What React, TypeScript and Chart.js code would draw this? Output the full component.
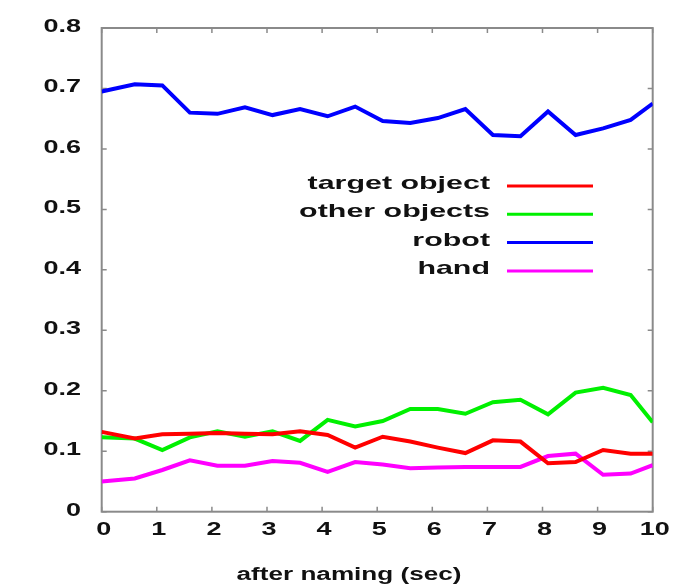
import React, { useEffect, useRef } from "react";
import { Chart, registerables } from "chart.js";

Chart.register(...registerables);

const TIMES = [0, 0.6, 1.1, 1.6, 2.1, 2.6, 3.1, 3.6, 4.1, 4.6, 5.1, 5.6, 6.1, 6.6, 7.1, 7.6, 8.1, 8.6, 9.1, 9.6, 10];
const TARGET = [0.132, 0.121, 0.128, 0.129, 0.130, 0.129, 0.128, 0.133, 0.127, 0.106, 0.124, 0.116, 0.106, 0.097, 0.118, 0.116, 0.080, 0.082, 0.102, 0.096, 0.096];
const OTHER = [0.123, 0.121, 0.102, 0.123, 0.133, 0.124, 0.133, 0.117, 0.152, 0.141, 0.150, 0.170, 0.170, 0.162, 0.181, 0.185, 0.161, 0.197, 0.205, 0.193, 0.148];
const ROBOT = [0.695, 0.707, 0.705, 0.660, 0.658, 0.669, 0.656, 0.666, 0.654, 0.670, 0.646, 0.643, 0.651, 0.666, 0.623, 0.621, 0.662, 0.623, 0.634, 0.648, 0.675];
const HAND = [0.050, 0.055, 0.069, 0.085, 0.076, 0.076, 0.084, 0.081, 0.066, 0.082, 0.078, 0.072, 0.073, 0.074, 0.074, 0.074, 0.092, 0.096, 0.061, 0.063, 0.077];

const SERIES_LABELS = ["target object", "other objects", "robot", "hand"];
const SERIES_COLORS = ["#ff0000", "#00f000", "#0000ff", "#ff00ff"];
const X_TICKS = [0, 1, 2, 3, 4, 5, 6, 7, 8, 9, 10];
const Y_TICKS = [0, 0.1, 0.2, 0.3, 0.4, 0.5, 0.6, 0.7, 0.8];
const X_TITLE = "after naming (sec)";

const FONT = "bold 18px 'Liberation Sans', Arial, sans-serif";
const LEGEND_FONT = "bold 19px 'Liberation Sans', Arial, sans-serif";
const STRETCH = 1.5;

function stretchText(ctx: CanvasRenderingContext2D, text: string, x: number, y: number, align: CanvasTextAlign, sx: number) {
  ctx.save();
  ctx.translate(x, y);
  ctx.scale(sx, 1);
  ctx.textAlign = align;
  ctx.fillText(text, 0, 0);
  ctx.restore();
}

const framePlugin = {
  id: "gnuplotFrame",
  beforeDatasetsDraw(chart: any) {
    const { ctx, chartArea: a, scales } = chart;
    ctx.save();
    ctx.strokeStyle = "#8a8a8a";
    ctx.lineWidth = 2;
    ctx.strokeRect(a.left, a.top, a.right - a.left, a.bottom - a.top);
    ctx.lineWidth = 1.5;
    ctx.beginPath();
    X_TICKS.forEach((v) => {
      const px = scales.x.getPixelForValue(v);
      ctx.moveTo(px, a.bottom);
      ctx.lineTo(px, a.bottom - 5);
      ctx.moveTo(px, a.top);
      ctx.lineTo(px, a.top + 5);
    });
    Y_TICKS.forEach((v) => {
      const py = scales.y.getPixelForValue(v);
      ctx.moveTo(a.left, py);
      ctx.lineTo(a.left + 5, py);
      ctx.moveTo(a.right, py);
      ctx.lineTo(a.right - 5, py);
    });
    ctx.stroke();
    ctx.restore();
  },
  afterDraw(chart: any) {
    const { ctx, chartArea: a, scales } = chart;
    ctx.save();
    ctx.fillStyle = "#111111";
    ctx.font = FONT;
    ctx.textBaseline = "middle";
    Y_TICKS.forEach((v) => {
      const py = scales.y.getPixelForValue(v);
      stretchText(ctx, String(v), 81, py - 1, "right", STRETCH);
    });
    X_TICKS.forEach((v) => {
      const px = scales.x.getPixelForValue(v);
      stretchText(ctx, String(v), px + 2, a.bottom + 18, "center", STRETCH);
    });
    ctx.textBaseline = "alphabetic";
    stretchText(ctx, X_TITLE, 349, 580, "center", 1.45);

    // legend
    ctx.font = LEGEND_FONT;
    chart.data.datasets.forEach((ds: any, i: number) => {
      const ly = 186 + i * 28.3;
      ctx.fillStyle = "#111111";
      stretchText(ctx, ds.label, 490, ly + 3, "right", 1.6);
      ctx.strokeStyle = ds.borderColor;
      ctx.lineWidth = 3;
      ctx.beginPath();
      ctx.moveTo(507, ly);
      ctx.lineTo(593, ly);
      ctx.stroke();
    });
    ctx.restore();
  },
};

export default function App() {
  const ref = useRef<HTMLCanvasElement>(null);
  useEffect(() => {
    if (!ref.current) return;
    const series = [TARGET, OTHER, ROBOT, HAND];
    const chart = new Chart(ref.current, {
      type: "line",
      data: {
        datasets: series.map((vals, i) => ({
          label: SERIES_LABELS[i],
          data: vals.map((y, j) => ({ x: TIMES[j], y })),
          borderColor: SERIES_COLORS[i],
          backgroundColor: SERIES_COLORS[i],
          borderWidth: 4,
          pointRadius: 0,
          tension: 0,
          fill: false,
        })),
      },
      options: {
        responsive: false,
        animation: false,
        layout: { padding: { left: 101.7, right: 23.3, top: 28, bottom: 73.3 } },
        plugins: { legend: { display: false }, tooltip: { enabled: false } },
        scales: {
          x: { type: "linear", min: 0, max: 10, display: false },
          y: { type: "linear", min: 0, max: 0.8, display: false },
        },
      },
      plugins: [framePlugin],
    });
    return () => chart.destroy();
  }, []);
  return (
    <div style={{ position: "fixed", left: 0, top: 0, width: 676, height: 585, background: "#fff" }}>
      <canvas ref={ref} width={676} height={585} />
    </div>
  );
}
